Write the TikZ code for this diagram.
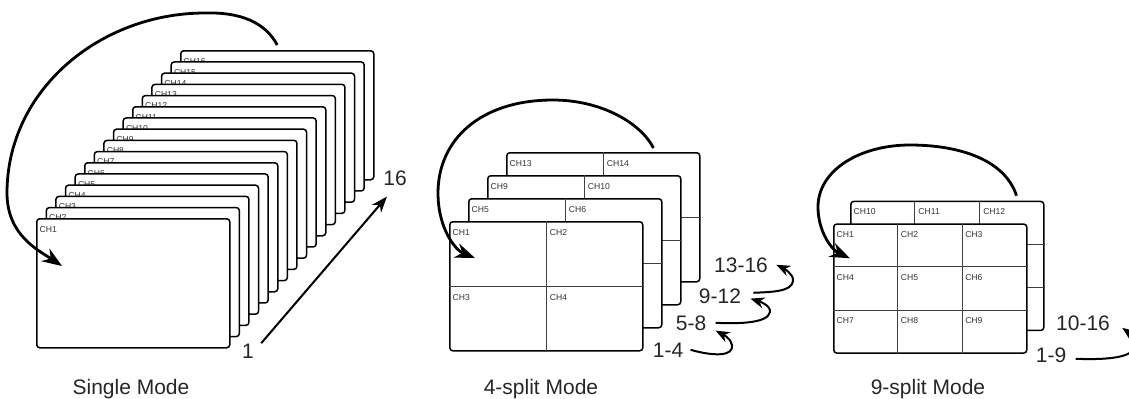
\documentclass[tikz,border=0pt]{standalone}
\usepackage{fontspec}
\setmainfont{Liberation Sans}
\usetikzlibrary{arrows.meta, positioning, calc}

\begin{document}
\begin{tikzpicture}[x=0.5pt, y=-0.5pt,
    screen/.style={draw, fill=white, rounded corners=1.5pt, line width=0.75pt,
        minimum width=96.5pt, minimum height=64.5pt, inner sep=0pt, anchor=north west},
    divider/.style={line width=0.6pt, draw=black!75},
    chlab/.style={font=\fontsize{4.3}{5}\selectfont, text=black!80, inner xsep=1.6pt,
        inner ysep=3.8pt, anchor=north west},
    num/.style={font=\fontsize{10.5}{12}\selectfont, text=black!85, inner sep=0pt, anchor=base},
    cycle arrow/.style={line width=1.4pt, -{Stealth[length=10pt, width=7.5pt]}},
    count arrow/.style={line width=1pt, -{Stealth[length=8pt, width=6pt]}},
    step arrow/.style={line width=1pt, -{Stealth[length=7pt, width=5.5pt]}}]
    \clip (0,0) rectangle (1129,398);

    % single mode
    \foreach \i in {16,15,...,1} {
        \node[screen] (s\i) at ({36+9.6*(\i-1)},{218-11.2*(\i-1)}) {};
        \node[chlab] (t\i) at (s\i.north west) {CH\i};
    }
    \node[num] (c1) at (248,358) {1};
    \node[num] (c16) at (395,185) {16};
    \draw[count arrow] ([xshift=3.5pt]c1.north east) -- ([shift={(2pt,-5.5pt)}]c16.south west);
    \draw[cycle arrow] ([yshift=2.5pt]s16.north) .. controls (265,22) and (240,12) .. (205,13)
        .. controls (100,13) and (7,90) .. (7,193)
        .. controls (7,235) and (38,250) .. ([shift={(13pt,-24pt)}]s1.north west);
    \node[num] (m1) at (131,394) {Single Mode};

    % 4-split mode
    \foreach \k/\a/\b in {3/13/14, 2/9/10, 1/5/6} {
        \node[screen] (q\k) at ({449+19*\k},{221-23*\k}) {};
        \draw[divider] (q\k.north) -- (q\k.south) (q\k.west) -- (q\k.east);
        \node[chlab] (qa\k) at (q\k.north west) {CH\a};
        \node[chlab] (qb\k) at (q\k.north) {CH\b};
    }
    \node[screen] (q0) at (449,221) {};
    \draw[divider] (q0.north) -- (q0.south) (q0.west) -- (q0.east);
    \node[chlab] (qa0) at (q0.north west) {CH1};
    \node[chlab] (qb0) at (q0.north) {CH2};
    \node[chlab] (qc0) at (q0.west) {CH3};
    \node[chlab] (qd0) at (q0.center) {CH4};
    \draw[cycle arrow] ([shift={(-23.5pt,2pt)}]q3.north east) .. controls (640,122) and (600,100) .. (553,100)
        .. controls (480,100) and (438,140) .. (438,193)
        .. controls (438,228) and (455,250) .. ([shift={(13pt,-18.5pt)}]q0.north west);
    \node[num] (r14) at (668,357) {1-4};
    \node[num] (r58) at (691,330) {5-8};
    \node[num] (r912) at (720,303) {9-12};
    \node[num] (r1316) at (741,272) {13-16};
    \draw[step arrow] ([xshift=3.5pt]r14.east) .. controls (712,356) and (734,357) .. (732,345)
        .. controls (731,338) and (722,334) .. ([xshift=4.5pt]r58.south east);
    \draw[step arrow] ([xshift=4.5pt]r58.east) .. controls (740,324) and (768,323) .. (770,312)
        .. controls (771,305) and (758,301) .. ([shift={(4.5pt,2.5pt)}]r912.south east);
    \draw[step arrow] ([shift={(6pt,1.5pt)}]r912.east) .. controls (770,292) and (792,292) .. (793,281)
        .. controls (794,274) and (783,268) .. ([xshift=4pt]r1316.east);
    \node[num] (m4) at (541,394) {4-split Mode};

    % 9-split mode
    \node[screen] (n1) at (850,200.7) {};
    \foreach \t in {1,2} {
        \draw[divider] ($(n1.north west)!\t/3!(n1.north east)$) -- ($(n1.south west)!\t/3!(n1.south east)$);
        \draw[divider] ($(n1.north west)!\t/3!(n1.south west)$) -- ($(n1.north east)!\t/3!(n1.south east)$);
    }
    \foreach \c/\m in {0/10, 1/11, 2/12}
        \node[chlab] (nb\m) at ($(n1.north west)!\c/3!(n1.north east)$) {CH\m};
    \node[screen] (n0) at (833,223.3) {};
    \foreach \t in {1,2} {
        \draw[divider] ($(n0.north west)!\t/3!(n0.north east)$) -- ($(n0.south west)!\t/3!(n0.south east)$);
        \draw[divider] ($(n0.north west)!\t/3!(n0.south west)$) -- ($(n0.north east)!\t/3!(n0.south east)$);
    }
    \foreach \r in {0,1,2}
        \foreach \c in {0,1,2} {
            \pgfmathtruncatemacro\m{3*\r+\c+1}
            \node[chlab] (na\m) at ($(n0.north west)+(64.33*\c,43*\r)$) {CH\m};
        }
    \draw[cycle arrow] ([shift={(-14pt,2.5pt)}]n1.north east) .. controls (1005,160) and (960,145) .. (910,145)
        .. controls (860,145) and (818,170) .. (818,207)
        .. controls (818,232) and (832,250) .. ([shift={(8.5pt,-17.5pt)}]n0.north west);
    \node[num] (r19) at (1051,362) {1-9};
    \node[num] (r1016) at (1083,330) {10-16};
    \draw[step arrow] ([shift={(4.5pt,-2pt)}]r19.east) .. controls (1105,360) and (1136,358) .. (1134,345)
        .. controls (1133,338) and (1128,332) .. ([shift={(6pt,-2.5pt)}]r1016.east);
    \node[num] (m9) at (928,394) {9-split Mode};
\end{tikzpicture}
\end{document}
